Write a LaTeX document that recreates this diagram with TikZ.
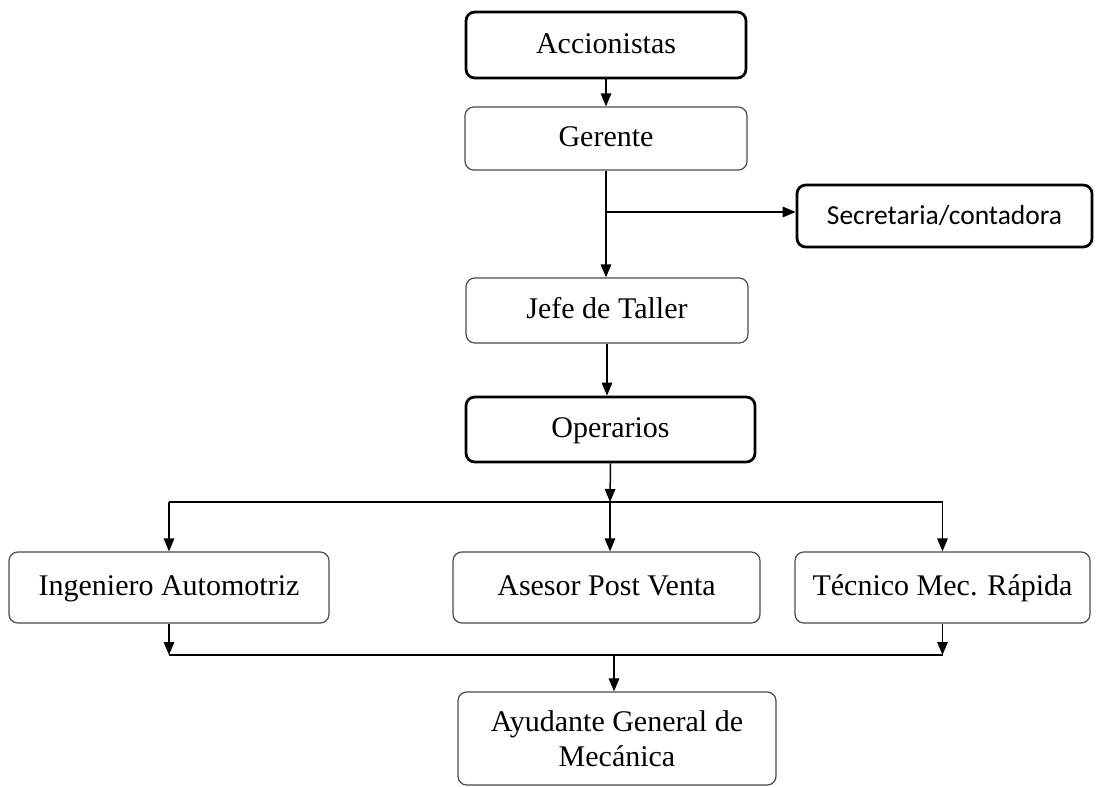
\documentclass[tikz,border=0pt]{standalone}
\usepackage{fontspec}
\setmainfont{Liberation Serif}
\newfontfamily\calibri{Carlito}
\usepackage{tikz}
\usetikzlibrary{arrows.meta, positioning, calc}

\begin{document}
\begin{tikzpicture}[
	x=0.4pt, y=-0.4pt,
	every node/.style={font=\fontsize{12}{14}\selectfont},
	cargo/.style={rectangle, draw=black!70, line width=0.5pt, rounded corners=3.5pt, inner sep=0pt, align=center},
	unalinea/.style={text height=1.9ex, text depth=0.45ex},
	cargofuerte/.style={cargo, unalinea, draw=black, line width=1.1pt},
	arrow/.style={-{Triangle[width=4.2pt, length=5.2pt]}, line width=0.6pt}
]
\useasboundingbox (0,0) rectangle (1108,787);

% Cargos
\node[cargofuerte, minimum width=112pt, minimum height=26.4pt] (acc) at (606,45) {Accionistas};
\node[cargo, unalinea, minimum width=112.8pt, minimum height=25.2pt] (ger) at (606,138.5) {Gerente};
\node[cargofuerte, minimum width=118pt, minimum height=24.8pt, font=\calibri\fontsize{11}{13}\selectfont] (sec) at (944.5,216) {Secretaria/contadora};
\node[cargo, unalinea, minimum width=112.8pt, minimum height=26pt] (jefe) at (607,310.5) {Jefe de Taller};
\node[cargofuerte, minimum width=115.6pt, minimum height=26pt] (oper) at (610.5,429.5) {Operarios};

% Area operativa
\node[cargo, unalinea, minimum width=128pt, minimum height=28.4pt] (ing) at (169,587.5) {Ingeniero Automotriz};
\node[cargo, unalinea, minimum width=122.8pt, minimum height=28.4pt] (ase) at (606.5,587.5) {Asesor Post Venta};
\node[cargo, unalinea, minimum width=118pt, minimum height=28.4pt] (tec) at (942.5,587.5) {Técnico Mec. Rápida};
\node[cargo, minimum width=127.2pt, minimum height=37.2pt] (ayu) at (617,738.5) {Ayudante General de\\ Mecánica};

\coordinate (reparto) at (610,502);
\coordinate (union) at (614,655);

% Conexiones
\draw[arrow] (acc.south) -- (acc.south |- ger.north);
\draw[arrow] (ger.south) -- (ger.south |- jefe.north);
\draw[arrow] (ger.south |- 0,212) -- (sec.west |- 0,212);
\draw[arrow] (jefe.south) -- (jefe.south |- oper.north);
\draw[arrow] (oper.south) -- (reparto);
\draw[line width=0.6pt] (ing.north |- reparto) -- (tec.north |- reparto);
\draw[arrow] (ing.north |- reparto) -- (ing.north);
\draw[arrow] (reparto) -- (reparto |- ase.north);
\draw[arrow] (tec.north |- reparto) -- (tec.north);

\draw[line width=0.6pt] (ing.south |- union) -- (tec.south |- union);
\draw[arrow] (ing.south) -- (ing.south |- union);
\draw[arrow] (tec.south) -- (tec.south |- union);
\draw[arrow] (union) -- (union |- ayu.north);

\end{tikzpicture}
\end{document}
